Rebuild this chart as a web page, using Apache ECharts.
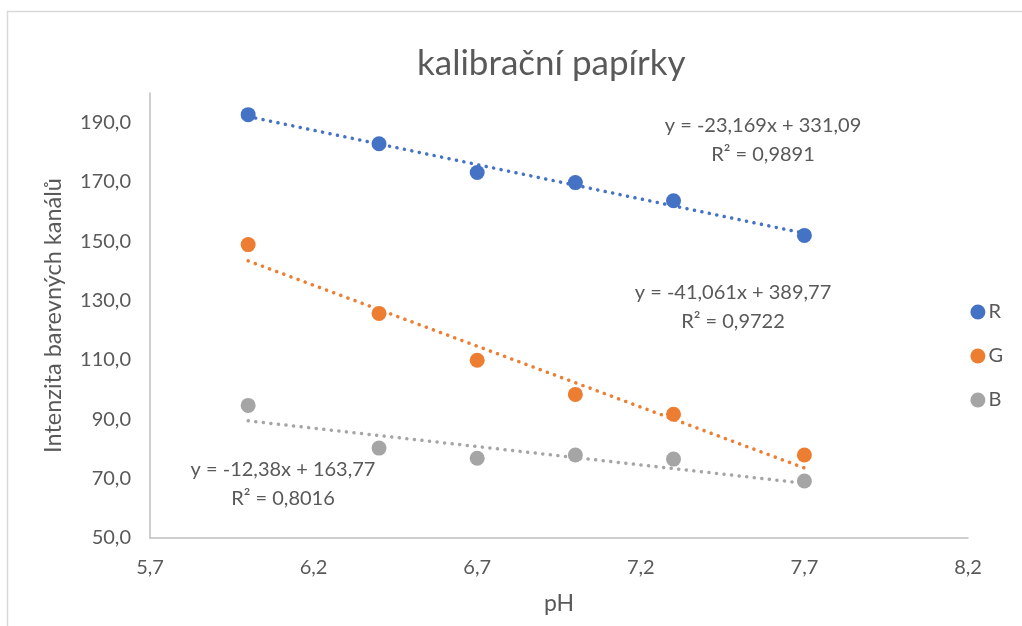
<!DOCTYPE html>
<html>
<head>
<meta charset="utf-8">
<script src="https://cdn.jsdelivr.net/npm/echarts@6/dist/echarts.min.js"></script>
<style>
  html, body { margin: 0; padding: 0; background: #fff; }
  #chart { width: 1022px; height: 626px; }
</style>
</head>
<body>
<div id="chart"></div>
<script>
// measured values (pH vs channel intensity)
const phValues = [6.0, 6.4, 6.7, 7.0, 7.3, 7.7];
const rValues = [192.7, 182.9, 173.2, 169.8, 163.7, 152.0];
const gValues = [148.9, 125.7, 109.9, 98.4, 91.7, 78.0];
const bValues = [94.7, 80.3, 76.9, 78.0, 76.6, 69.2];

// Excel trendline coefficients [slope, intercept, r2]
const rTrend = [-23.169, 331.09, 0.9891];
const gTrend = [-41.061, 389.77, 0.9722];
const bTrend = [-12.38, 163.77, 0.8016];

const colors = { R: '#4472C4', G: '#ED7D31', B: '#A5A5A5' };
const textColor = '#595959';
const font = 'Lato, "Open Sans", sans-serif';

const comma = (s) => String(s).replace('.', ',');

function trendLine(coef) {
  const x0 = phValues[0];
  const x1 = phValues[phValues.length - 1];
  return [[x0, coef[0] * x0 + coef[1]], [x1, coef[0] * x1 + coef[1]]];
}

function pointSeries(name, values) {
  return {
    name: name,
    type: 'scatter',
    symbol: 'circle',
    symbolSize: 15,
    itemStyle: { color: colors[name], opacity: 1 },
    data: phValues.map((x, i) => [x, values[i]]),
    z: 3
  };
}

function trendSeries(name, coef) {
  return {
    name: name + ' trend',
    type: 'line',
    showSymbol: false,
    symbol: 'none',
    silent: true,
    lineStyle: { color: colors[name], width: 3.5, type: [0.1, 7.5], cap: 'round' },
    data: trendLine(coef),
    z: 2
  };
}

function eqText(coef, cx, cy) {
  return {
    type: 'text',
    x: cx, y: cy,
    style: {
      text: 'y = ' + comma(coef[0]) + 'x + ' + comma(coef[1]) + '\nR² = ' + comma(coef[2]),
      fill: textColor,
      font: '20px ' + font,
      align: 'center',
      verticalAlign: 'middle',
      lineHeight: 29
    }
  };
}

const chart = echarts.init(document.getElementById('chart'), null, { renderer: 'canvas' });

const option = {
  animation: false,
  backgroundColor: '#fff',
  title: {
    text: 'kalibrační papírky',
    left: 412,
    top: 41,
    textStyle: { fontFamily: font, fontSize: 35, fontWeight: 'normal', color: textColor }
  },
  legend: {
    orient: 'vertical',
    right: 14,
    top: 297,
    itemGap: 24,
    itemWidth: 15,
    itemHeight: 15,
    icon: 'circle',
    data: ['R', 'G', 'B'],
    textStyle: { fontFamily: font, fontSize: 20, color: textColor, padding: [0, 0, 0, -2] }
  },
  grid: { left: 150, right: 54, top: 93, bottom: 88 },
  xAxis: {
    type: 'value',
    min: 5.7,
    max: 8.2,
    interval: 0.1,
    name: 'pH',
    nameLocation: 'middle',
    nameGap: 54,
    nameTextStyle: { fontFamily: font, fontSize: 23, color: textColor },
    axisLine: { show: true, onZero: false, lineStyle: { color: '#BFBFBF', width: 1.5 } },
    axisTick: { show: false },
    splitLine: { show: false },
    axisLabel: {
      fontFamily: font, fontSize: 20, color: textColor, margin: 20,
      formatter: (v) => (Math.round((v - 5.7) * 10) % 5 === 0 ? comma(v.toFixed(1)) : '')
    }
  },
  yAxis: {
    type: 'value',
    min: 50,
    max: 200,
    interval: 10,
    name: 'Intenzita barevných kanálů',
    nameLocation: 'middle',
    nameGap: 85,
    nameTextStyle: { fontFamily: font, fontSize: 23.5, color: textColor },
    axisLine: { show: true, lineStyle: { color: '#BFBFBF', width: 1.5 } },
    axisTick: { show: false },
    splitLine: { show: false },
    axisLabel: {
      fontFamily: font, fontSize: 20, color: textColor, margin: 19,
      showMaxLabel: false,
      formatter: (v) => (Math.round(v - 50) % 20 === 0 && v < 200 ? comma(v.toFixed(1)) : '')
    }
  },
  graphic: [
    {
      type: 'rect',
      shape: { x: 7.5, y: 11.5, width: 1100, height: 700 },
      style: { fill: 'none', stroke: '#D9D9D9', lineWidth: 1.5 },
      silent: true,
      z: -1
    },
    eqText(rTrend, 763, 140),
    eqText(gTrend, 733, 307),
    eqText(bTrend, 283, 484)
  ],
  series: [
    trendSeries('R', rTrend),
    trendSeries('G', gTrend),
    trendSeries('B', bTrend),
    pointSeries('R', rValues),
    pointSeries('G', gValues),
    pointSeries('B', bValues)
  ]
};

chart.setOption(option);
window.addEventListener('resize', () => chart.resize());
</script>
</body>
</html>
